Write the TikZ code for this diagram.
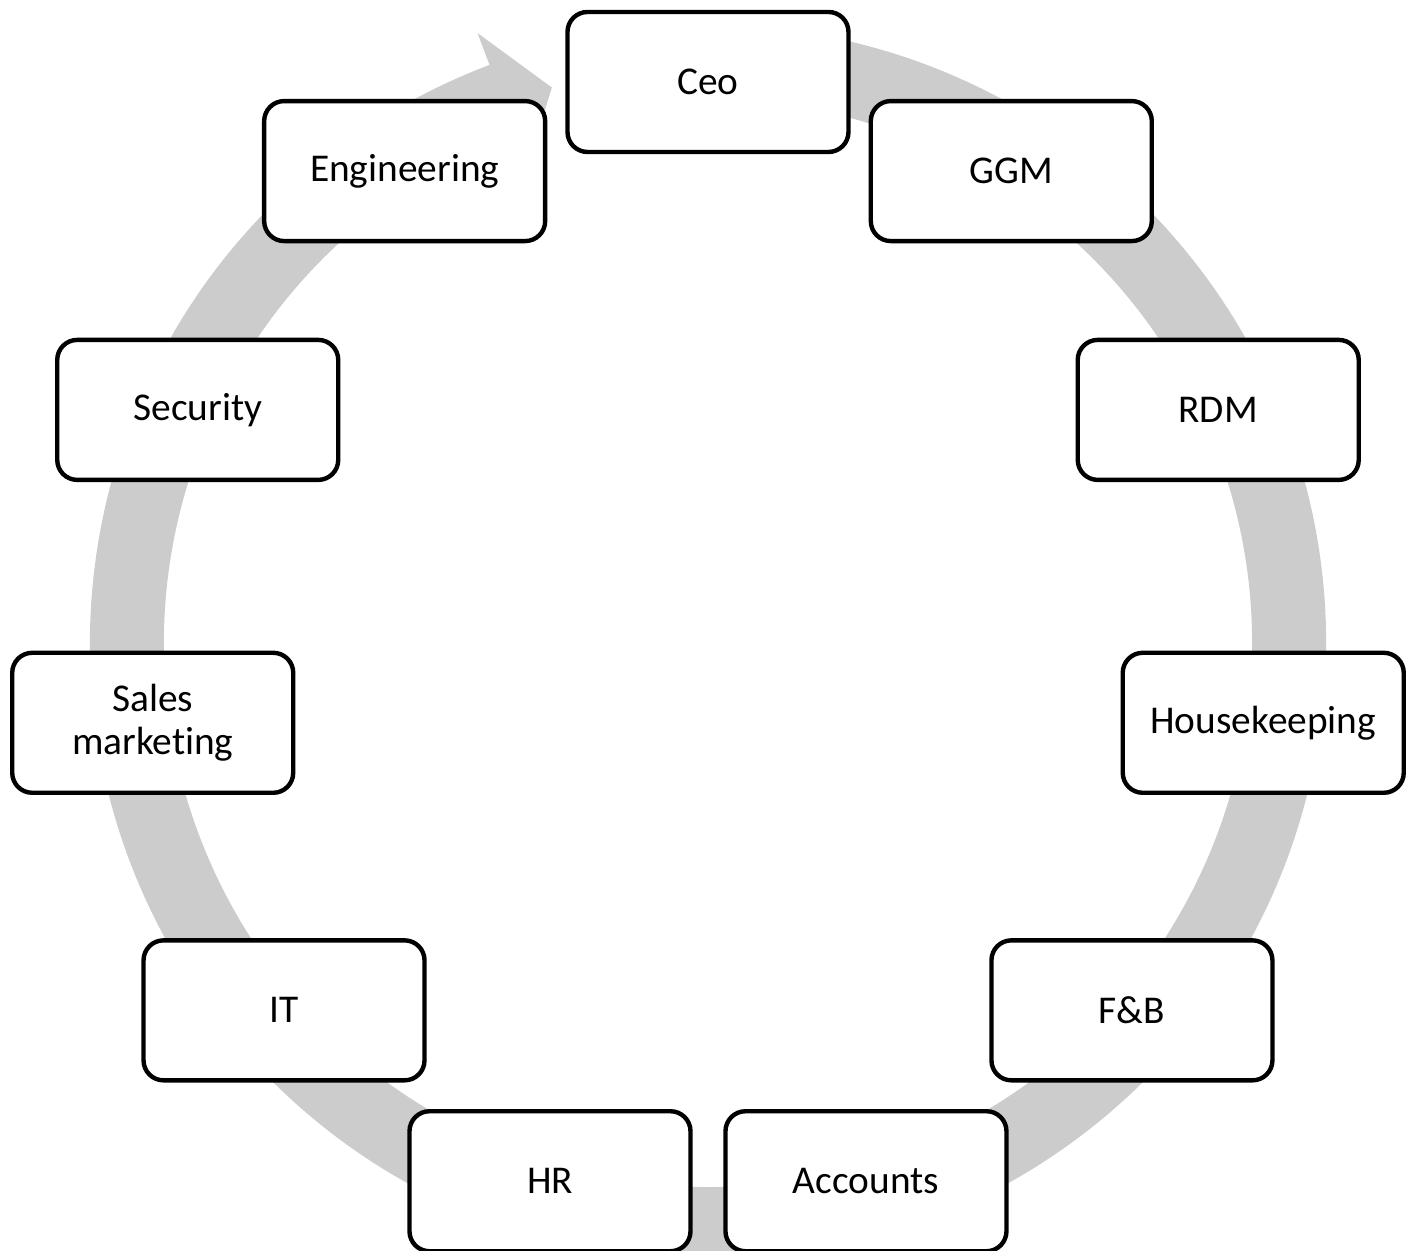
\documentclass[tikz,border=0pt]{standalone}
\usepackage{fontspec}
\setmainfont{Carlito}[Ligatures=NoCommon]
\usepackage{xcolor}
\usepackage{tikz}
\usetikzlibrary{calc, positioning}
\definecolor{ringgray}{RGB}{204,204,204}
\tikzset{
    roundnode/.style = {draw=black, fill=white, rectangle, rounded corners=0.2cm, line width=1.25pt,
      minimum width=2.81cm, minimum height=1.40cm, inner sep=0em, align=center,
      font=\fontsize{11.2}{12.2}\selectfont},
    ringshape/.style = {fill=ringgray, draw=none}
}
\begin{document}
\begin{tikzpicture}
\useasboundingbox (-7.08,-6.08) rectangle (7.08,6.43);
% grey cycle arrow behind the boxes
\path[ringshape] (80:6.18) arc[start angle=80, end angle=-249.3, radius=6.18]
  -- (110.7:6.52) -- (105.7:5.77) -- (110.7:5.10) -- (110.7:5.44)
  arc[start angle=-249.3, end angle=80, radius=5.44] -- cycle;
% departments
\node[roundnode, name=ceo] at (90:5.61) {Ceo};
\node[roundnode, name=ggm] at (57.27:5.61) {GGM};
\node[roundnode, name=rdm] at (24.55:5.61) {RDM};
\node[roundnode, name=hk] at (-8.18:5.61) {Housekeeping};
\node[roundnode, name=fb] at (-40.91:5.61) {F\&B};
\node[roundnode, name=acc] at (-73.64:5.61) {Accounts};
\node[roundnode, name=hr] at (-106.36:5.61) {HR};
\node[roundnode, name=it] at (-139.09:5.61) {IT};
\node[roundnode, name=sales] at (-171.82:5.61) {Sales\\marketing};
\node[roundnode, name=sec] at (155.45:5.61) {Security};
\node[roundnode, name=eng] at (122.73:5.61) {Engineering};
\end{tikzpicture}
\end{document}
